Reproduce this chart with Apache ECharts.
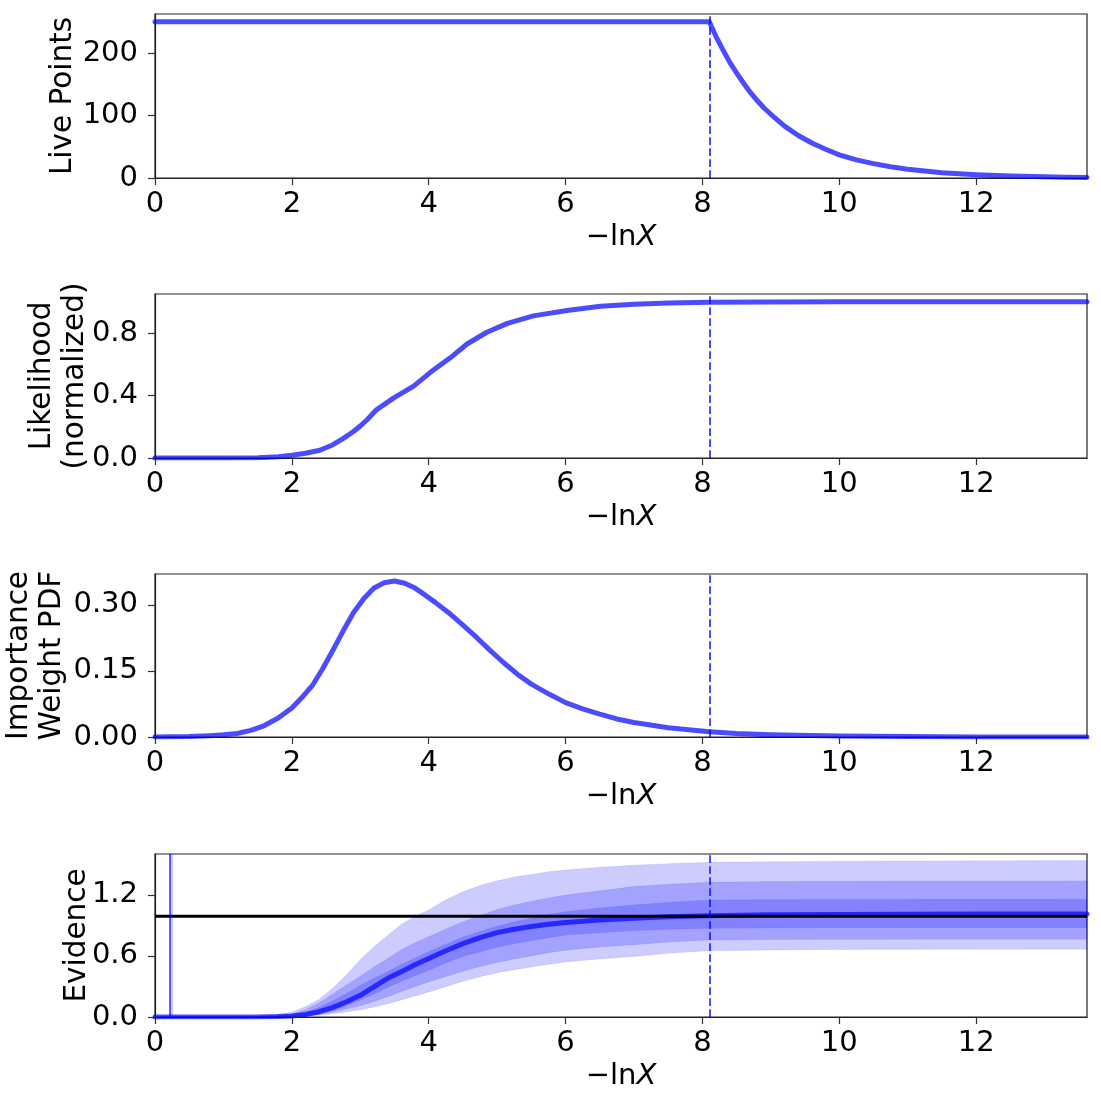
<!DOCTYPE html>
<html>
<head>
<meta charset="utf-8">
<script src="https://cdn.jsdelivr.net/npm/echarts@6/dist/echarts.min.js"></script>
<style>
  html, body { margin: 0; padding: 0; background: #fff; }
  #chart { width: 1101px; height: 1101px; }
</style>
</head>
<body>
<div id="chart"></div>
<script>
// run summary values
const xMax = 13.62
const xTicks = [0, 2, 4, 6, 8, 10, 12]
const stopX = 8.1

// live points
const liveX = [0, 8.1, 8.2, 8.3, 8.4, 8.5, 8.6, 8.7, 8.8, 8.9, 9.0, 9.2, 9.4, 9.6, 9.8, 10.0, 10.25, 10.5, 10.75, 11, 11.5, 12, 12.5, 13, 13.3, 13.62]
const liveY = [250, 250, 226, 205, 185, 168, 152, 137, 124, 112, 102, 83, 68, 56, 46, 37, 29, 23, 18, 14, 8.3, 5.1, 3.1, 1.9, 1.4, 1]

// normalized likelihood
const likeX = [0, 1.0, 1.5, 1.8, 2.0, 2.2, 2.41, 2.6, 2.76, 2.9, 3.0, 3.1, 3.24, 3.49, 3.78, 4.02, 4.32, 4.56, 4.85, 5.15, 5.53, 6.02, 6.51, 7.0, 7.5, 8.1, 9, 10, 13.62]
const likeY = [0, 0, 0.002, 0.008, 0.018, 0.03, 0.05, 0.085, 0.127, 0.17, 0.205, 0.245, 0.31, 0.385, 0.46, 0.547, 0.643, 0.73, 0.805, 0.862, 0.91, 0.944, 0.972, 0.985, 0.993, 0.997, 0.999, 1.0, 1.0]

// importance weight pdf
const wtX = [0, 0.5, 0.8, 1.0, 1.2, 1.4, 1.6, 1.8, 2.0, 2.15, 2.3, 2.45, 2.6, 2.75, 2.9, 3.05, 3.2, 3.35, 3.5, 3.65, 3.8, 3.95, 4.1, 4.3, 4.5, 4.7, 4.9, 5.1, 5.3, 5.5, 5.75, 6.0, 6.25, 6.5, 6.75, 7.0, 7.5, 8.1, 8.5, 9, 10, 11, 12, 13.62]
const wtY = [0, 0.001, 0.003, 0.005, 0.008, 0.015, 0.026, 0.043, 0.066, 0.09, 0.117, 0.155, 0.197, 0.241, 0.282, 0.314, 0.338, 0.35, 0.354, 0.349, 0.338, 0.322, 0.305, 0.281, 0.254, 0.226, 0.196, 0.168, 0.142, 0.12, 0.098, 0.078, 0.064, 0.052, 0.041, 0.033, 0.021, 0.012, 0.008, 0.005, 0.002, 0.001, 0, 0]

// evidence with 1/2/3 sigma bands
const evX = [0, 1.5, 1.8, 2.0, 2.2, 2.4, 2.6, 2.8, 3.0, 3.2, 3.4, 3.6, 3.8, 4.0, 4.25, 4.5, 4.75, 5.0, 5.25, 5.5, 5.75, 6.0, 6.5, 7.0, 7.5, 8.1, 9, 10, 12, 13.62]
const evMed = [0, 0.001, 0.004, 0.01, 0.025, 0.052, 0.095, 0.15, 0.213, 0.295, 0.38, 0.445, 0.512, 0.574, 0.65, 0.72, 0.78, 0.828, 0.862, 0.888, 0.91, 0.928, 0.952, 0.97, 0.985, 0.995, 1.003, 1.007, 1.01, 1.01]
const evUp3 = [0, 0.008, 0.025, 0.05, 0.1, 0.175, 0.285, 0.415, 0.565, 0.69, 0.8, 0.91, 0.99, 1.05, 1.15, 1.23, 1.29, 1.337, 1.375, 1.40, 1.425, 1.443, 1.47, 1.49, 1.505, 1.518, 1.525, 1.53, 1.533, 1.535]
const evUp2 = [0, 0.005, 0.015, 0.03, 0.07, 0.14, 0.225, 0.315, 0.40, 0.49, 0.575, 0.66, 0.73, 0.787, 0.865, 0.935, 0.995, 1.055, 1.10, 1.135, 1.168, 1.197, 1.24, 1.28, 1.302, 1.322, 1.33, 1.333, 1.335, 1.336]
const evUp1 = [0, 0.003, 0.01, 0.02, 0.045, 0.095, 0.16, 0.23, 0.31, 0.38, 0.445, 0.515, 0.58, 0.64, 0.715, 0.785, 0.84, 0.89, 0.935, 0.97, 1.005, 1.033, 1.07, 1.10, 1.125, 1.148, 1.152, 1.154, 1.155, 1.156]
const evLo1 = [0, 0, 0.002, 0.006, 0.015, 0.035, 0.065, 0.11, 0.17, 0.225, 0.29, 0.35, 0.405, 0.46, 0.53, 0.595, 0.64, 0.685, 0.72, 0.75, 0.778, 0.804, 0.828, 0.848, 0.862, 0.872, 0.874, 0.875, 0.876, 0.876]
const evLo2 = [0, 0, 0.001, 0.004, 0.011, 0.025, 0.048, 0.078, 0.11, 0.152, 0.2, 0.25, 0.298, 0.344, 0.398, 0.45, 0.495, 0.535, 0.57, 0.60, 0.63, 0.656, 0.686, 0.71, 0.735, 0.755, 0.76, 0.762, 0.764, 0.764]
const evLo3 = [0, 0, 0.001, 0.003, 0.008, 0.018, 0.032, 0.05, 0.07, 0.097, 0.13, 0.168, 0.207, 0.246, 0.298, 0.35, 0.395, 0.435, 0.465, 0.49, 0.517, 0.541, 0.57, 0.595, 0.625, 0.65, 0.658, 0.662, 0.665, 0.666]
const evTrue = 0.99
const spikeX = 0.215

const FONT = 'DejaVu Sans'
const BLUE = 'rgba(0,0,255,0.7)'
const tops = [14, 294, 574, 854]
const heights = [164, 164, 163, 163]

const zip = (xs, ys) => xs.map((x, i) => [x, ys[i]])
const bands = [[evLo3, evUp3], [evLo2, evUp2], [evLo1, evUp1]]

const yCfg = [
  {max: 262.5, interval: 100, fmt: v => String(v), name: 'Live Points', gap: 75},
  {max: 1.05, interval: 0.4, fmt: v => v.toFixed(1), name: 'Likelihood\n(normalized)', gap: 63},
  {max: 0.37, interval: 0.15, fmt: v => v.toFixed(2), name: 'Importance\nWeight PDF', gap: 86},
  {max: 1.6, interval: 0.6, fmt: v => v.toFixed(1), name: 'Evidence', gap: 61}
]

const grid = tops.map((t, i) => ({
  left: 155, right: 14, top: t, height: heights[i],
  outerBoundsMode: 'none', containLabel: false,
  show: true, borderColor: '#222', borderWidth: 1.2, backgroundColor: 'transparent'
}))

const xAxis = tops.map((t, i) => ({
  type: 'value', gridIndex: i, min: 0, max: xMax, interval: 2,
  axisLine: {show: true, lineStyle: {color: '#222', width: 1.2}},
  axisTick: {length: 7, lineStyle: {color: '#333', width: 1.2}},
  axisLabel: {fontSize: 29, fontFamily: FONT, color: '#000', margin: 12, showMaxLabel: false,
    formatter: v => xTicks.indexOf(v) >= 0 ? String(v) : ''},
  splitLine: {show: false},
  name: '{a|\u2212ln}{b|X}',
  nameLocation: 'middle', nameGap: 44, nameMoveOverlap: false,
  nameTextStyle: {
    rich: {
      a: {fontSize: 29, fontFamily: FONT, color: '#000', lineHeight: 31},
      b: {fontSize: 29, fontFamily: FONT, color: '#000', fontStyle: 'italic', lineHeight: 31}
    }
  }
}))

const yAxis = yCfg.map((c, i) => ({
  type: 'value', gridIndex: i, min: 0, max: c.max, interval: c.interval,
  axisLine: {show: true, lineStyle: {color: '#222', width: 1.2}},
  axisTick: {show: true, length: 7, lineStyle: {color: '#333', width: 1.2}},
  axisLabel: {fontSize: 29, fontFamily: FONT, color: '#000', margin: 17, align: 'right',
    hideOverlap: false, showMaxLabel: false, formatter: c.fmt},
  splitLine: {show: false},
  name: c.name, nameLocation: 'middle', nameRotate: 90, nameGap: c.gap, nameMoveOverlap: false,
  nameTextStyle: {fontSize: 29.5, fontFamily: FONT, color: '#000', lineHeight: 33}
}))

const stopLine = {
  silent: true, symbol: 'none', label: {show: false},
  lineStyle: {color: BLUE, type: [7.7, 3.3], width: 2},
  data: [{xAxis: stopX}]
}

const lineSeries = (i, data, extra) => Object.assign({
  type: 'line', xAxisIndex: i, yAxisIndex: i, data,
  showSymbol: false, symbol: 'none', smooth: false,
  lineStyle: {color: BLUE, width: 5, join: 'round', cap: 'round'}, itemStyle: {color: BLUE},
  z: 3
}, extra || {})

// sigma bands as polygons through the evidence axes
const bandSeries = {
  type: 'custom', xAxisIndex: 3, yAxisIndex: 3, z: 1, silent: true,
  data: bands.map((b, k) => [k]),
  renderItem: (params, api) => {
    const [lo, up] = bands[params.dataIndex]
    const top = evX.map((x, k) => api.coord([x, up[k]]))
    const bot = evX.map((x, k) => api.coord([x, lo[k]])).reverse()
    return {
      type: 'polygon',
      shape: {points: top.concat(bot)},
      style: {fill: 'rgba(0,0,255,0.2)', stroke: 'rgba(0,0,255,0.08)', lineWidth: 1}
    }
  }
}

const series = [
  lineSeries(0, zip(liveX, liveY), {markLine: stopLine}),
  lineSeries(1, zip(likeX, likeY), {markLine: stopLine}),
  lineSeries(2, zip(wtX, wtY), {markLine: stopLine}),
  bandSeries,
  lineSeries(3, zip(evX, evMed)),
  lineSeries(3, zip([0, xMax], [evTrue, evTrue]), {
    lineStyle: {color: '#000', width: 3}, z: 4,
    markLine: {
      silent: true, symbol: 'none', label: {show: false},
      data: [
        {xAxis: spikeX, lineStyle: {color: 'rgba(0,0,255,0.6)', width: 2, type: 'solid'}},
        {xAxis: spikeX + 0.03, lineStyle: {color: 'rgba(0,0,255,0.2)', width: 3, type: 'solid'}}
      ]
    }
  }),
  lineSeries(3, zip([stopX, stopX], [0, 0]), {lineStyle: {width: 0}, markLine: stopLine, z: 5})
]

const chart = echarts.init(document.getElementById('chart'), null, {renderer: 'canvas'})
chart.setOption({
  animation: false,
  backgroundColor: '#fff',
  textStyle: {fontFamily: FONT},
  grid, xAxis, yAxis, series
})
</script>
</body>
</html>
